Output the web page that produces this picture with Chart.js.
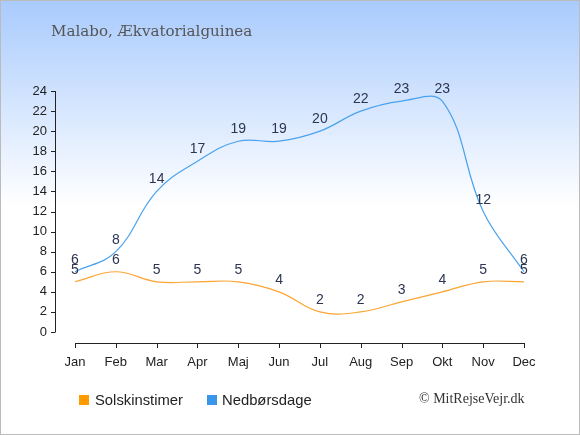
<!DOCTYPE html>
<html>
<head>
<meta charset="utf-8">
<script src="https://cdn.jsdelivr.net/npm/chart.js@4"></script>
<style>
  html, body { margin: 0; padding: 0; }
  #box {
    position: relative;
    width: 580px; height: 435px;
    box-sizing: border-box;
    border: 1px solid #bbb;
    background: linear-gradient(to bottom, #a9cbfd 0px, #ffffff 205px, #ffffff 100%);
    overflow: hidden;
  }
  #chart { position: absolute; left: 0; top: 0; }
  .title {
    position: absolute; left: 50px; top: 21px;
    font-family: "DejaVu Serif", serif; font-size: 15.1px; color: #555;
    white-space: nowrap;
  }
  .legend {
    position: absolute; top: 389px; height: 20px;
    font-family: "Liberation Sans", Arial, sans-serif; font-size: 14.8px; color: #222;
    white-space: nowrap; line-height: 20px;
  }
  .legend span.sq {
    position: absolute; top: 5px; width: 10px; height: 10px;
  }
  .copy {
    position: absolute; left: 418px; top: 388px;
    font-family: "Liberation Serif", serif; font-size: 14px; color: #333;
    white-space: nowrap; line-height: 20px;
  }
</style>
</head>
<body>
<div id="box">
  <canvas id="chart" width="580" height="435"></canvas>
  <div class="title">Malabo, Ækvatorialguinea</div>
  <div class="legend" style="left:78px"><span class="sq" style="left:0;background:#ff9a00"></span><span style="position:absolute;left:16px">Solskinstimer</span></div>
  <div class="legend" style="left:206px"><span class="sq" style="left:0;background:#3a96e8"></span><span style="position:absolute;left:15px">Nedbørsdage</span></div>
  <div class="copy">© MitRejseVejr.dk</div>
</div>
<script>
// data
const maaneder = ['Jan', 'Feb', 'Mar', 'Apr', 'Maj', 'Jun', 'Jul', 'Aug', 'Sep', 'Okt', 'Nov', 'Dec'];
const solskinstimer = [5, 6, 5, 5, 5, 4, 2, 2, 3, 4, 5, 5];
const nedboersdage = [6, 8, 14, 17, 19, 19, 20, 22, 23, 23, 12, 6];
const yMin = 0;
const yMax = 24;
const yStep = 2;

// akser tegnes separat (y-aksen står lidt fra januar, x-aksen under plottet)
const axisLines = {
  id: 'axisLines',
  afterDraw(chart) {
    const ctx = chart.ctx;
    const x = chart.scales.x;
    const y = chart.scales.y;
    const axX = x.getPixelForValue(0) - 20;
    const axY = y.getPixelForValue(yMin) + 11;
    ctx.save();
    ctx.strokeStyle = '#222';
    ctx.lineWidth = 1;
    ctx.beginPath();
    ctx.moveTo(axX + 0.5, y.getPixelForValue(yMax));
    ctx.lineTo(axX + 0.5, y.getPixelForValue(yMin));
    y.ticks.forEach(t => {
      const py = Math.round(y.getPixelForValue(t.value)) + 0.5;
      ctx.moveTo(axX - 4, py);
      ctx.lineTo(axX + 0.5, py);
    });
    ctx.moveTo(x.getPixelForValue(0), axY + 0.5);
    ctx.lineTo(x.getPixelForValue(maaneder.length - 1), axY + 0.5);
    maaneder.forEach((m, i) => {
      const px = Math.round(x.getPixelForValue(i)) + 0.5;
      ctx.moveTo(px, axY);
      ctx.lineTo(px, axY + 5);
    });
    ctx.stroke();
    ctx.restore();
  }
};

// tal over punkterne
const pointLabels = {
  id: 'pointLabels',
  afterDatasetsDraw(chart) {
    const ctx = chart.ctx;
    ctx.save();
    ctx.font = '14px "Liberation Sans", Arial, sans-serif';
    ctx.fillStyle = '#2d3550';
    ctx.textAlign = 'center';
    ctx.textBaseline = 'alphabetic';
    chart.data.datasets.forEach((ds, i) => {
      chart.getDatasetMeta(i).data.forEach((pt, j) => {
        ctx.fillText(ds.data[j], pt.x, pt.y - 8);
      });
    });
    ctx.restore();
  }
};

const ctx = document.getElementById('chart').getContext('2d');
new Chart(ctx, {
  type: 'line',
  data: {
    labels: maaneder,
    datasets: [{
      label: 'Solskinstimer',
      data: solskinstimer,
      borderColor: '#fca532',
      borderWidth: 1.2,
      tension: 0.4,
      pointRadius: 0,
      fill: false
    }, {
      label: 'Nedbørsdage',
      data: nedboersdage,
      borderColor: '#4aa2ee',
      borderWidth: 1.2,
      tension: 0.4,
      pointRadius: 0,
      fill: false
    }]
  },
  options: {
    responsive: false,
    animation: false,
    layout: { padding: { top: 90, left: 0, right: 57, bottom: 64 } },
    plugins: {
      legend: { display: false },
      tooltip: { enabled: false }
    },
    scales: {
      x: {
        offset: false,
        grid: { display: false },
        border: { display: false },
        ticks: {
          color: '#222',
          padding: 15,
          maxRotation: 0,
          autoSkip: false,
          font: { family: '"Liberation Sans", Arial, sans-serif', size: 13 }
        },
        afterFit(scale) { scale.height = 40; }
      },
      y: {
        min: yMin,
        max: yMax,
        grid: { display: false },
        border: { display: false },
        ticks: {
          stepSize: yStep,
          color: '#222',
          padding: 20,
          font: { family: '"Liberation Sans", Arial, sans-serif', size: 13 }
        },
        afterFit(scale) { scale.width = 74; }
      }
    }
  },
  plugins: [axisLines, pointLabels]
});
</script>
</body>
</html>
